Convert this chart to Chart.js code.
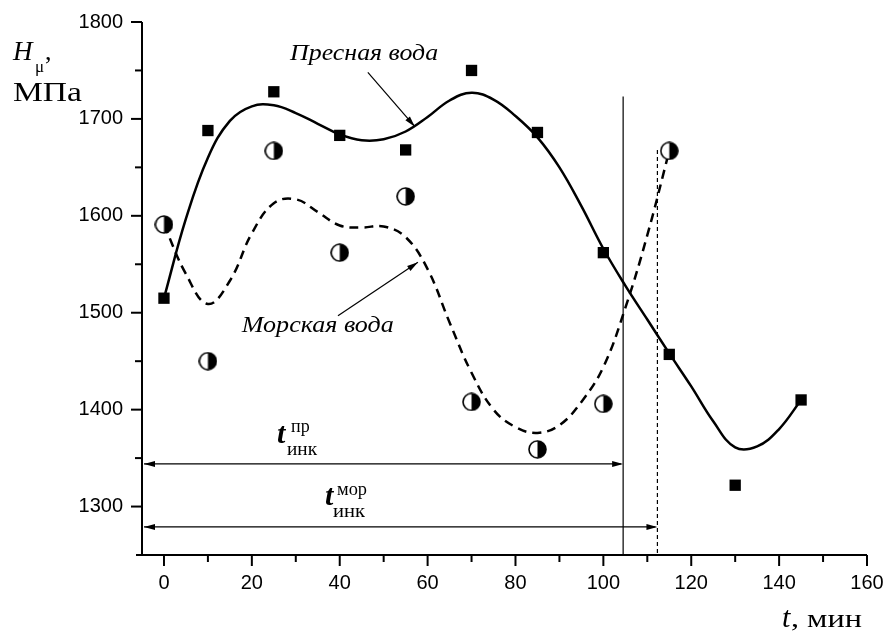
<!DOCTYPE html>
<html>
<head>
<meta charset="utf-8">
<script src="https://cdn.jsdelivr.net/npm/chart.js@4.4.0/dist/chart.umd.min.js"></script>
<style>
  html, body { margin: 0; padding: 0; background: #fff; }
</style>
</head>
<body>
<canvas id="hardness" width="886" height="635"></canvas>
<script>
// measured microhardness, MPa
const freshMinutes = [0, 10, 25, 40, 55, 70, 85, 100, 115, 130, 145];
const freshHardness = [1515, 1688, 1728, 1683, 1668, 1750, 1686, 1562, 1457, 1322, 1410];
const seaMinutes = [0, 10, 25, 40, 55, 70, 85, 100, 115];
const seaHardness = [1591, 1450, 1667, 1562, 1620, 1408, 1359, 1406, 1667];

// fitted curves
const freshCurveMinutes = [0, 5, 10, 15, 20, 25, 30, 35, 40, 45, 50, 55, 60, 65, 70, 75, 80, 85, 90, 95, 100, 105, 110, 115, 120, 125, 130, 135, 140, 145];
const freshCurveHardness = [1515, 1597, 1660, 1698, 1713, 1714, 1706, 1695, 1684, 1678, 1679, 1687, 1702, 1719, 1727, 1720, 1703, 1681, 1650, 1610, 1566, 1528, 1493, 1458, 1424, 1388, 1361, 1362, 1380, 1410];
const seaCurveMinutes = [0, 5, 10, 15, 20, 25, 30, 35, 40, 45, 50, 55, 60, 65, 70, 75, 80, 85, 90, 95, 100, 105, 110, 115];
const seaCurveHardness = [1591, 1540, 1509, 1533, 1582, 1613, 1617, 1604, 1590, 1588, 1589, 1578, 1545, 1490, 1438, 1400, 1382, 1376, 1384, 1408, 1444, 1505, 1580, 1667];

const xTickLabels = ['0', '20', '40', '60', '80', '100', '120', '140', '160'];
const yTickLabels = ['1300', '1400', '1500', '1600', '1700', '1800'];

// incubation times and marker levels
const freshIncubation = 104.5;
const seaIncubation = 112.3;
const freshLineTop = 1723;
const seaLineTop = 1668;
const freshArrowLevel = 1344;
const seaArrowLevel = 1279;

const pairs = (xs, ys) => xs.map((x, i) => ({ x: x, y: ys[i] }));

function halfCircle(size) {
  const c = document.createElement('canvas');
  c.width = c.height = size;
  const g = c.getContext('2d');
  const m = size / 2, r = size / 2 - 1;
  g.beginPath(); g.arc(m, m, r, 0, 2 * Math.PI); g.fillStyle = '#fff'; g.fill();
  g.beginPath(); g.arc(m, m, r, -Math.PI / 2, Math.PI / 2); g.closePath(); g.fillStyle = '#000'; g.fill();
  g.beginPath(); g.arc(m, m, r, 0, 2 * Math.PI); g.lineWidth = 1.6; g.strokeStyle = '#000'; g.stroke();
  return c;
}

function line(ctx, x1, y1, x2, y2) {
  ctx.beginPath(); ctx.moveTo(x1, y1); ctx.lineTo(x2, y2); ctx.stroke();
}

function arrowHead(ctx, x1, y1, x2, y2) {
  const a = Math.atan2(y2 - y1, x2 - x1), len = 11, w = 3;
  ctx.beginPath();
  ctx.moveTo(x2, y2);
  ctx.lineTo(x2 - len * Math.cos(a) + w * Math.sin(a), y2 - len * Math.sin(a) - w * Math.cos(a));
  ctx.lineTo(x2 - len * Math.cos(a) - w * Math.sin(a), y2 - len * Math.sin(a) + w * Math.cos(a));
  ctx.closePath(); ctx.fill();
}

function text(ctx, str, x, y, font, width) {
  ctx.save();
  ctx.font = font;
  ctx.translate(x, y);
  if (width) ctx.scale(width / ctx.measureText(str).width, 1);
  ctx.fillText(str, 0, 0);
  ctx.restore();
}

const serif = '"Liberation Serif", "Times New Roman", serif';
const sans = '"Liberation Sans", Arial, sans-serif';

const decorations = {
  id: 'decorations',
  beforeDatasetsDraw(chart) {
    const { ctx, scales: { x, y } } = chart;
    ctx.save();
    ctx.strokeStyle = '#000';
    ctx.fillStyle = '#000';
    ctx.lineWidth = 1.2;
    const fx = x.getPixelForValue(freshIncubation), sx = x.getPixelForValue(seaIncubation);
    line(ctx, fx, y.getPixelForValue(freshLineTop), fx, y.bottom);
    ctx.setLineDash([4, 3]);
    line(ctx, sx, y.getPixelForValue(seaLineTop), sx, y.bottom);
    ctx.setLineDash([]);
    [[fx, freshArrowLevel], [sx, seaArrowLevel]].forEach(([ex, lvl]) => {
      const py = y.getPixelForValue(lvl);
      line(ctx, x.left + 2, py, ex - 2, py);
      arrowHead(ctx, ex - 10, py, ex, py);
      arrowHead(ctx, x.left + 12, py, x.left + 2, py);
    });
    ctx.restore();
  },
  afterDraw(chart) {
    const { ctx, scales: { x, y } } = chart;
    ctx.save();
    ctx.strokeStyle = '#000';
    ctx.fillStyle = '#000';
    // axes
    ctx.lineWidth = 2;
    line(ctx, x.left - 6, y.bottom, x.right, y.bottom);
    line(ctx, x.left, y.top, x.left, y.bottom);
    // major and minor ticks
    const xv = x.ticks.map(t => t.value), yv = y.ticks.map(t => t.value);
    xv.forEach((v, i) => {
      const px = x.getPixelForValue(v);
      line(ctx, px, y.bottom, px, y.bottom + 11);
      if (i < xv.length - 1) {
        const mx = x.getPixelForValue((v + xv[i + 1]) / 2);
        line(ctx, mx, y.bottom, mx, y.bottom + 7);
      }
    });
    yv.forEach((v, i) => {
      const py = y.getPixelForValue(v);
      line(ctx, x.left, py, x.left - 11, py);
      const mid = i === 0 ? v - 50 : (v + yv[i - 1]) / 2;
      if (mid > y.min) {
        const my = y.getPixelForValue(mid);
        line(ctx, x.left, my, x.left - 7, my);
      }
    });

    // axis titles
    ctx.textBaseline = 'alphabetic';
    ctx.textAlign = 'left';
    text(ctx, 'H', 13, 60, 'italic 27px ' + serif);
    text(ctx, 'μ', 35, 72, '17px ' + serif);
    text(ctx, ',', 45, 60, '26px ' + serif);
    text(ctx, 'МПа', 13, 101, '27px ' + serif, 69);
    text(ctx, 't', 782, 627, 'italic 30px ' + serif);
    text(ctx, ', мин', 791, 627, '26px ' + serif, 71);

    // curve callouts
    ctx.lineWidth = 1.2;
    text(ctx, 'Пресная вода', x.getPixelForValue(28.7), y.getPixelForValue(1761), 'italic 24px ' + serif, 148);
    let ax1 = x.getPixelForValue(46.4), ay1 = y.getPixelForValue(1748);
    let ax2 = x.getPixelForValue(57.1), ay2 = y.getPixelForValue(1692);
    line(ctx, ax1, ay1, ax2, ay2); arrowHead(ctx, ax1, ay1, ax2, ay2);
    text(ctx, 'Морская вода', x.getPixelForValue(17.7), y.getPixelForValue(1480), 'italic 24px ' + serif, 152);
    ax1 = x.getPixelForValue(39.6); ay1 = y.getPixelForValue(1497);
    ax2 = x.getPixelForValue(57.8); ay2 = y.getPixelForValue(1552);
    line(ctx, ax1, ay1, ax2, ay2); arrowHead(ctx, ax1, ay1, ax2, ay2);

    // incubation labels
    const tFont = 'italic bold 30px ' + serif, small = '18px ' + serif;
    text(ctx, 't', 277, 443, tFont);
    text(ctx, 'пр', 291, 432, small);
    text(ctx, 'инк', 287, 455, small, 30);
    text(ctx, 't', 325, 505, tFont);
    text(ctx, 'мор', 337, 495, small, 30);
    text(ctx, 'инк', 333, 517, small, 32);
    ctx.restore();
  }
};

new Chart(document.getElementById('hardness'), {
  type: 'scatter',
  data: {
    datasets: [
      {
        label: 'Пресная вода',
        data: pairs(freshMinutes, freshHardness),
        pointStyle: 'rect',
        pointRadius: 8,
        backgroundColor: '#000',
        borderColor: '#000',
        borderWidth: 0
      },
      {
        label: 'Морская вода',
        data: pairs(seaMinutes, seaHardness),
        pointStyle: halfCircle(19),
        pointRadius: 9
      },
      {
        label: 'Пресная вода, аппроксимация',
        data: pairs(freshCurveMinutes, freshCurveHardness),
        showLine: true,
        tension: 0.4,
        borderColor: '#000',
        borderWidth: 2.5,
        pointRadius: 0
      },
      {
        label: 'Морская вода, аппроксимация',
        data: pairs(seaCurveMinutes, seaCurveHardness),
        showLine: true,
        tension: 0.4,
        borderColor: '#000',
        borderWidth: 2.5,
        borderDash: [9, 6],
        pointRadius: 0
      }
    ]
  },
  options: {
    responsive: false,
    animation: false,
    layout: { padding: { top: 22, right: 19, left: 0, bottom: 0 } },
    plugins: { legend: { display: false }, tooltip: { enabled: false } },
    scales: {
      x: {
        type: 'linear',
        min: -5,
        max: 160,
        grid: { drawOnChartArea: false, drawTicks: true, tickLength: 16, color: 'rgba(0,0,0,0)' },
        border: { display: false },
        ticks: { stepSize: 20, includeBounds: false, padding: 0, color: '#000',
                 font: { family: sans, size: 20 },
                 callback: (v, i) => xTickLabels[i] },
        afterFit(scale) { scale.height = 80; }
      },
      y: {
        type: 'linear',
        min: 1250,
        max: 1800,
        grid: { drawOnChartArea: false, drawTicks: true, tickLength: 19, color: 'rgba(0,0,0,0)' },
        border: { display: false },
        ticks: { stepSize: 100, includeBounds: false, padding: 0, color: '#000',
                 font: { family: sans, size: 20 },
                 callback: (v, i) => yTickLabels[i] },
        afterFit(scale) { scale.width = 142; }
      }
    }
  },
  plugins: [decorations]
});
</script>
</body>
</html>
